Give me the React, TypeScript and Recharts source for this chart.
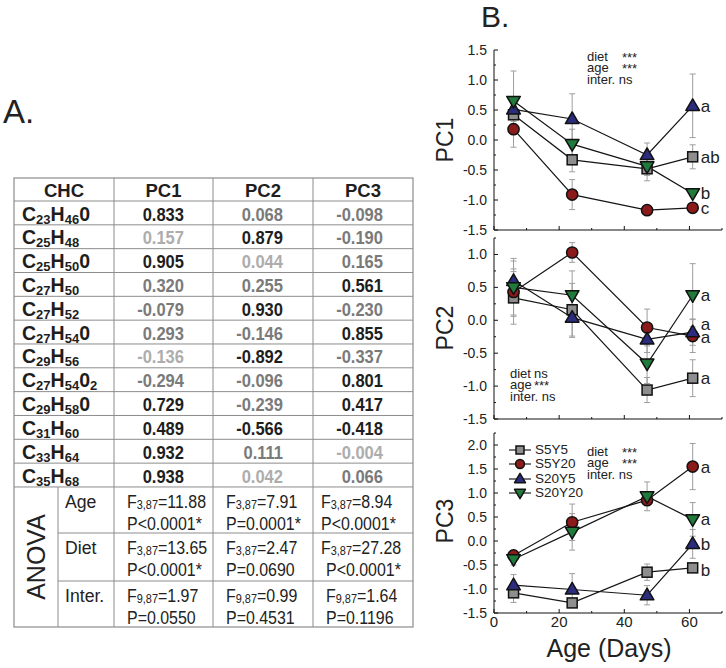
import React from 'react'
import { LineChart, Line, XAxis, YAxis, ErrorBar, LabelList, Legend } from 'recharts'

const FONT = '"Liberation Sans", Arial, Helvetica, sans-serif'

// ---------- A. loadings table ----------
const chcFormulas: [string, string][][] = [
  [['C', '23'], ['H', '46'], ['0', '']],
  [['C', '25'], ['H', '48']],
  [['C', '25'], ['H', '50'], ['0', '']],
  [['C', '27'], ['H', '50']],
  [['C', '27'], ['H', '52']],
  [['C', '27'], ['H', '54'], ['0', '']],
  [['C', '29'], ['H', '56']],
  [['C', '27'], ['H', '54'], ['0', '2']],
  [['C', '29'], ['H', '58'], ['0', '']],
  [['C', '31'], ['H', '60']],
  [['C', '33'], ['H', '64']],
  [['C', '35'], ['H', '68']],
]
const pcHeaders = ['PC1', 'PC2', 'PC3']
const pc1Loadings = ['0.833', '0.157', '0.905', '0.320', '-0.079', '0.293', '-0.136', '-0.294', '0.729', '0.489', '0.932', '0.938']
const pc2Loadings = ['0.068', '0.879', '0.044', '0.255', '0.930', '-0.146', '-0.892', '-0.096', '-0.239', '-0.566', '0.111', '0.042']
const pc3Loadings = ['-0.098', '-0.190', '0.165', '0.561', '-0.230', '0.855', '-0.337', '0.801', '0.417', '-0.418', '-0.004', '0.066']
// k = strong (black), g = medium (grey), l = weak (light grey)
const pc1Shade = ['k', 'l', 'k', 'g', 'g', 'g', 'l', 'g', 'k', 'k', 'k', 'k']
const pc2Shade = ['g', 'k', 'l', 'g', 'k', 'g', 'k', 'g', 'g', 'k', 'g', 'l']
const pc3Shade = ['g', 'g', 'g', 'k', 'g', 'k', 'g', 'k', 'k', 'k', 'l', 'g']

const anovaFactors = ['Age', 'Diet', 'Inter.']
const anovaDf = [
  ['3,87', '3,87', '3,87'],
  ['3,87', '3,87', '3,87'],
  ['9,87', '9,87', '9,87'],
]
const anovaF = [
  ['=11.88', '=7.91', '=8.94'],
  ['=13.65', '=2.47', '=27.28'],
  ['=1.97', '=0.99', '=1.64'],
]
const anovaP = [
  ['P<0.0001*', 'P=0.0001*', 'P<0.0001*'],
  ['P<0.0001*', 'P=0.0690', 'P<0.0001*'],
  ['P=0.0550', 'P=0.4531', 'P=0.1196'],
]

// ---------- B. PC scores by age ----------
const days = [6, 24, 47, 61]
const groups = ['S5Y5', 'S5Y20', 'S20Y5', 'S20Y20']

const pc1Means = [
  [0.42, -0.33, -0.48, -0.28],
  [0.18, -0.91, -1.17, -1.13],
  [0.51, 0.35, -0.25, 0.57],
  [0.65, -0.07, -0.44, -0.89],
]
const pc1Errors = [
  [0.15, 0.2, 0.2, 0.2],
  [0.3, 0.25, 0.06, 0.07],
  [0.2, 0.42, 0.2, 0.53],
  [0.5, 0.25, 0.15, 0.05],
]
const pc1Letters = ['ab', 'c', 'a', 'b']

const pc2Means = [
  [0.34, 0.16, -1.06, -0.88],
  [0.43, 1.03, -0.11, -0.24],
  [0.6, 0.04, -0.29, -0.18],
  [0.5, 0.38, -0.66, 0.38],
]
const pc2Errors = [
  [0.4, 0.4, 0.19, 0.28],
  [0.35, 0.15, 0.28, 0.25],
  [0.3, 0.3, 0.2, 0.2],
  [0.44, 0.37, 0.3, 0.48],
]
const pc2Letters = ['a', 'a', 'a', 'a']

const pc3Means = [
  [-1.08, -1.29, -0.65, -0.56],
  [-0.3, 0.39, 0.85, 1.55],
  [-0.92, -1.01, -1.13, -0.06],
  [-0.38, 0.19, 0.93, 0.45],
]
const pc3Errors = [
  [0.2, 0.08, 0.17, 0.07],
  [0.1, 0.38, 0.1, 0.48],
  [0.22, 0.33, 0.2, 0.3],
  [0.12, 0.38, 0.3, 0.35],
]
const pc3Letters = ['b', 'a', 'b', 'a']

const dayTicks = [0, 10, 20, 30, 40, 50, 60, 70]
const pc1Ticks = [-1.5, -1.25, -1, -0.75, -0.5, -0.25, 0, 0.25, 0.5, 0.75, 1, 1.25, 1.5]
const pc2Ticks = [-1.5, -1.25, -1, -0.75, -0.5, -0.25, 0, 0.25, 0.5, 0.75, 1, 1.25]
const pc3Ticks = [-1.5, -1.25, -1, -0.75, -0.5, -0.25, 0, 0.25, 0.5, 0.75, 1, 1.25, 1.5, 1.75, 2, 2.25]

const pc1Stats = [['diet', '***'], ['age', '***'], ['inter. ns', '']]
const pc2Stats = [['diet', 'ns'], ['age', '***'], ['inter. ns', '']]
const pc3Stats = [['diet', '***'], ['age', '***'], ['inter. ns', '']]

// styles
const groupFill = ['#8e8e8e', '#8b1a1a', '#2b2c7e', '#1f7a3b']
const shadeColor: Record<string, string> = { k: '#1e1e1e', g: '#7a7a7a', l: '#adadad' }
const gridColor = '#8c8c8c'

function Marker({ kind, cx, cy, s = 1 }: { kind: number; cx: number; cy: number; s?: number }) {
  const stroke = '#111'
  const sw = 1.5
  const fill = groupFill[kind]
  if (kind === 0) {
    const h = 5 * s
    return <rect x={cx - h} y={cy - h} width={2 * h} height={2 * h} fill={fill} stroke={stroke} strokeWidth={sw} />
  }
  if (kind === 1) return <circle cx={cx} cy={cy} r={5.6 * s} fill={fill} stroke={stroke} strokeWidth={sw} />
  if (kind === 2) {
    const pts = [[cx, cy - 7 * s], [cx - 6.8 * s, cy + 4.6 * s], [cx + 6.8 * s, cy + 4.6 * s]]
    return <polygon points={pts.map(p => p.join(',')).join(' ')} fill={fill} stroke={stroke} strokeWidth={sw} strokeLinejoin="round" />
  }
  const pts = [[cx - 6.8 * s, cy - 4.6 * s], [cx + 6.8 * s, cy - 4.6 * s], [cx, cy + 7 * s]]
  return <polygon points={pts.map(p => p.join(',')).join(' ')} fill={fill} stroke={stroke} strokeWidth={sw} strokeLinejoin="round" />
}

function YTick(props: any) {
  const { x, y, payload } = props
  const v = payload.value as number
  const major = Math.abs(v * 2 - Math.round(v * 2)) < 1e-6
  return (
    <g>
      <line x1={x} x2={x + (major ? 4 : 2)} y1={y} y2={y} stroke="#111" strokeWidth={1} />
      {major && (
        <text x={x - 7} y={y + 5} textAnchor="end" fontSize={14} fontFamily={FONT} fill="#222">
          {v.toFixed(1)}
        </text>
      )}
    </g>
  )
}

function XTick(props: any) {
  const { x, y, payload, showLabels } = props
  const major = payload.value % 20 === 0
  return (
    <g>
      <line x1={x} x2={x} y1={y} y2={y - (major ? 4 : 2)} stroke="#111" strokeWidth={1} />
      {showLabels && major && (
        <text x={x} y={y + 14} textAnchor="middle" fontSize={15} fontFamily={FONT} fill="#222">
          {payload.value}
        </text>
      )}
    </g>
  )
}

function LegendBox() {
  return (
    <div style={{ fontFamily: FONT, fontSize: 13.5, color: '#222' }}>
      {groups.map((g, i) => (
        <div key={g} style={{ display: 'flex', alignItems: 'center', height: 14.3 }}>
          <svg width={24} height={14} style={{ overflow: 'visible' }}>
            <line x1={1} x2={23} y1={7} y2={7} stroke="#222" strokeWidth={1.2} />
            <Marker kind={i} cx={12} cy={7} s={0.8} />
          </svg>
          <span style={{ marginLeft: 3, lineHeight: '14px' }}>{g}</span>
        </div>
      ))}
    </div>
  )
}

type PanelProps = {
  means: number[][]
  errors: number[][]
  letters: string[]
  letterDy: number[]
  domain: [number, number]
  ticks: number[]
  top: number
  plotH: number
  showX: boolean
  legend?: boolean
}

function Panel({ means, errors, letters, letterDy, domain, ticks, top, plotH, showX, legend }: PanelProps) {
  const rows = days.map((d, i) => {
    const row: Record<string, number> = { day: d }
    groups.forEach((g, gi) => {
      row[g] = means[gi][i]
      row[g + '_e'] = errors[gi][i]
    })
    return row
  })
  const xh = showX ? 22 : 10
  return (
    <div style={{ position: 'absolute', left: 440, top }}>
      <LineChart width={286} height={10 + plotH + xh} data={rows} margin={{ top: 10, right: 4, bottom: 0, left: 0 }}>
        <XAxis
          type="number"
          dataKey="day"
          domain={[0, 70]}
          ticks={dayTicks}
          interval={0}
          tickSize={0}
          tickMargin={0}
          tickLine={false}
          height={xh}
          axisLine={{ stroke: '#111' }}
          tick={(p: any) => <XTick {...p} showLabels={showX} />}
        />
        <YAxis
          type="number"
          domain={domain}
          ticks={ticks}
          interval={0}
          width={54}
          tickSize={0}
          tickMargin={0}
          tickLine={false}
          axisLine={{ stroke: '#111' }}
          allowDataOverflow
          tick={(p: any) => <YTick {...p} />}
        />
        {groups.map(g => (
          <Line key={'err-' + g} dataKey={g} stroke="none" dot={false} activeDot={false} legendType="none" isAnimationActive={false}>
            <ErrorBar dataKey={g + '_e'} width={3} stroke="#9e9e9e" strokeWidth={1} direction="y" isAnimationActive={false} />
          </Line>
        ))}
        {groups.map((g, gi) => (
          <Line
            key={g}
            dataKey={g}
            stroke="#151515"
            strokeWidth={1.2}
            activeDot={false}
            isAnimationActive={false}
            dot={(p: any) => <Marker key={g + p.index} kind={gi} cx={p.cx} cy={p.cy} />}
          >
            <LabelList
              dataKey={g}
              content={(p: any) =>
                p.index === days.length - 1 ? (
                  <text x={p.x + 8} y={p.y + 6 + letterDy[gi]} fontSize={17} fontFamily={FONT} fill="#222">
                    {letters[gi]}
                  </text>
                ) : null
              }
            />
          </Line>
        ))}
        {legend && (
          <Legend
            layout="vertical"
            align="center"
            verticalAlign="middle"
            wrapperStyle={{ left: 68, top: 20, width: 110 }}
            content={() => <LegendBox />}
          />
        )}
      </LineChart>
    </div>
  )
}

function Formula({ x, y, parts }: { x: number; y: number; parts: [string, string][] }) {
  const spans: React.ReactNode[] = []
  let low = false
  parts.forEach(([m, s], i) => {
    spans.push(<tspan key={'m' + i} dy={low ? -3 : 0}>{m}</tspan>)
    low = false
    if (s) {
      spans.push(<tspan key={'s' + i} dy={3} fontSize={13}>{s}</tspan>)
      low = true
    }
  })
  return (
    <text x={x} y={y} fontFamily={FONT} fontWeight="bold" fontSize={19.5} fill="#1e1e1e">
      {spans}
    </text>
  )
}

function Squeezed({ x, y, sx, anchor = 'start', size, weight = 'normal', fill = '#222', children }: any) {
  return (
    <g transform={`translate(${x},${y}) scale(${sx},1)`}>
      <text x={0} y={0} textAnchor={anchor} fontSize={size} fontWeight={weight} fill={fill} fontFamily={FONT}>
        {children}
      </text>
    </g>
  )
}

function Table() {
  const colX = [14, 114, 213, 313, 413]
  const top = 178
  const headBottom = 201
  const rowH = 23.83
  const bodyBottom = headBottom + rowH * 12
  const anovaLines = [bodyBottom, 533, 581, 627]
  const loadings = [pc1Loadings, pc2Loadings, pc3Loadings]
  const shades = [pc1Shade, pc2Shade, pc3Shade]
  const fIndent = [[13, 13, 8], [13, 13, 8], [13, 13, 13]]
  const pIndent = [[13, 13, 8], [13, 13, 13], [13, 13, 13]]
  return (
    <svg width={726} height={668} style={{ position: 'absolute', left: 0, top: 0 }}>
      <text x={3} y={123} fontSize={33} fontFamily={FONT} fill="#222">A.</text>
      {/* grid */}
      <rect x={colX[0]} y={top} width={colX[4] - colX[0]} height={627 - top} fill="none" stroke={gridColor} strokeWidth={1.2} />
      {[1, 2, 3].map(i => (
        <line key={'v' + i} x1={colX[i]} x2={colX[i]} y1={top} y2={627} stroke={gridColor} strokeWidth={1} />
      ))}
      <line x1={58} x2={58} y1={bodyBottom} y2={627} stroke={gridColor} strokeWidth={1} />
      {Array.from({ length: 13 }, (_, i) => headBottom + rowH * i).map((yy, i) => (
        <line key={'h' + i} x1={colX[0]} x2={colX[4]} y1={yy} y2={yy} stroke={gridColor} strokeWidth={1} />
      ))}
      {anovaLines.slice(1, 3).map((yy, i) => (
        <line key={'a' + i} x1={58} x2={colX[4]} y1={yy} y2={yy} stroke={gridColor} strokeWidth={1} />
      ))}
      {/* header */}
      <text x={64} y={top + 19} textAnchor="middle" fontWeight="bold" fontSize={18.5} fontFamily={FONT} fill="#1e1e1e">CHC</text>
      {pcHeaders.map((h, i) => (
        <text key={h} x={(colX[i + 1] + colX[i + 2]) / 2} y={top + 19} textAnchor="middle" fontWeight="bold" fontSize={18.5} fontFamily={FONT} fill="#1e1e1e">
          {h}
        </text>
      ))}
      {/* body */}
      {chcFormulas.map((f, r) => (
        <Formula key={'f' + r} x={22} y={headBottom + rowH * r + 19.5} parts={f} />
      ))}
      {loadings.map((col, c) =>
        col.map((v, r) => (
          <Squeezed key={c + '-' + r} x={colX[c + 1] + 70} y={headBottom + rowH * r + 19.5} sx={0.87} anchor="end" size={19} weight="bold" fill={shadeColor[shades[c][r]]}>
            {v}
          </Squeezed>
        ))
      )}
      {/* ANOVA */}
      <text transform="translate(45,557) rotate(-90)" textAnchor="middle" fontSize={25} fontFamily={FONT} fill="#222">ANOVA</text>
      {anovaFactors.map((fac, r) => (
        <Squeezed key={fac} x={65} y={anovaLines[r] + 21} sx={0.93} size={19}>{fac}</Squeezed>
      ))}
      {anovaFactors.map((fac, r) =>
        pcHeaders.map((h, c) => (
          <React.Fragment key={fac + h}>
            <Squeezed x={colX[c + 1] + fIndent[r][c]} y={anovaLines[r] + 21} sx={0.84} size={19}>
              <tspan>F</tspan>
              <tspan fontSize={13} dy={1}>{anovaDf[r][c]}</tspan>
              <tspan dy={-1}>{anovaF[r][c]}</tspan>
            </Squeezed>
            <Squeezed x={colX[c + 1] + pIndent[r][c]} y={anovaLines[r] + 43} sx={0.84} size={19}>
              {anovaP[r][c]}
            </Squeezed>
          </React.Fragment>
        ))
      )}
    </svg>
  )
}

function Stats({ x, y, valueX, rows }: { x: number; y: number; valueX: number; rows: string[][] }) {
  return (
    <g fontFamily={FONT} fontSize={13} fill="#222">
      {rows.map(([k, v], i) => (
        <React.Fragment key={k}>
          <text x={x} y={y + i * 11.3}>{k}</text>
          {v && <text x={valueX} y={y + i * 11.3 + (v === '***' ? 1 : 0)}>{v}</text>}
        </React.Fragment>
      ))}
    </g>
  )
}

export default function App() {
  return (
    <div style={{ position: 'absolute', left: 0, top: 0, width: 726, height: 668, background: '#fff', fontFamily: FONT }}>
      <Table />
      <Panel means={pc1Means} errors={pc1Errors} letters={pc1Letters} letterDy={[0, 0, 0, 0]} domain={[-1.5, 1.5]} ticks={pc1Ticks} top={40} plotH={180} showX={false} />
      <Panel means={pc2Means} errors={pc2Errors} letters={pc2Letters} letterDy={[0, 1, -8, 0]} domain={[-1.5, 1.25]} ticks={pc2Ticks} top={228} plotH={181} showX={false} />
      <Panel means={pc3Means} errors={pc3Errors} letters={pc3Letters} letterDy={[2, 0, 0, 0]} domain={[-1.5, 2.25]} ticks={pc3Ticks} top={423} plotH={180} showX legend />
      <svg width={726} height={668} style={{ position: 'absolute', left: 0, top: 0, pointerEvents: 'none' }}>
        <text x={481} y={27} fontSize={30} fontFamily={FONT} fill="#222">B.</text>
        <text transform="translate(453,140) rotate(-90)" textAnchor="middle" fontSize={23} fontFamily={FONT} fill="#222">PC1</text>
        <text transform="translate(453,328) rotate(-90)" textAnchor="middle" fontSize={23} fontFamily={FONT} fill="#222">PC2</text>
        <text transform="translate(453,521) rotate(-90)" textAnchor="middle" fontSize={23} fontFamily={FONT} fill="#222">PC3</text>
        <Stats x={587} y={61} valueX={622} rows={pc1Stats} />
        <Stats x={510} y={378} valueX={534} rows={pc2Stats} />
        <Stats x={587} y={456} valueX={622} rows={pc3Stats} />
        <text x={609} y={657} textAnchor="middle" fontSize={25} fontFamily={FONT} fill="#222">Age (Days)</text>
      </svg>
    </div>
  )
}
